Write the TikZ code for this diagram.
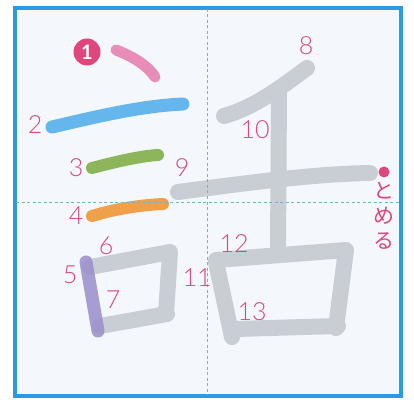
\documentclass[tikz,border=0pt]{standalone}
\usepackage{fontspec}
\usetikzlibrary{positioning}
\setmainfont{Lato Light}
\newfontfamily\jpfont{Noto Sans CJK JP}
\definecolor{frame}{HTML}{2A9BE0}
\definecolor{paper}{HTML}{F4F8FC}
\definecolor{guide}{HTML}{6FB3D0}
\definecolor{num}{HTML}{E0457B}
\definecolor{stk}{HTML}{C9CDD4}
\definecolor{c1}{HTML}{E88DB7}
\definecolor{c2}{HTML}{66B6EE}
\definecolor{c3}{HTML}{8DB65A}
\definecolor{c4}{HTML}{EFA048}
\definecolor{c5}{HTML}{9A8ECB}
\begin{document}
\begin{tikzpicture}[x=1pt, y=-1pt,
		g/.style={draw=stk, line width=16pt, line cap=round, line join=round},
		k/.style={line width=12pt, line cap=round, line join=round},
		d/.style={draw=guide, line width=1pt, dash pattern=on 3pt off 2.5pt},
		n/.style={text=num, font=\fontsize{25}{25}\selectfont, inner sep=0pt}
		]
		\useasboundingbox (0,0) rectangle (414,403);
		
		%Frame
		\draw[frame, line width=3.5pt, fill=paper] (15,8) rectangle (401,396);
		
		%Gray strokes
		\draw[g] (90,267) -- (170,252) -- (166,314);
		\draw[g] (100,326) -- (167,314);
		\draw[g] (307,68) .. controls (275,92) and (252,108) .. (224,116);
		\draw[g] (178,192) .. controls (240,184) and (310,174) .. (370,173);
		\draw[g] (279,92) -- (278,250);
		\draw[g] (216,262) -- (232,337);
		\draw[g] (216,260) -- (346,250) -- (336,328);
		\draw[g] (236,329) -- (338,326);
		
		%Colored strokes
		\draw[k, c1, line width=11pt] (116,50) .. controls (134,57) and (148,66) .. (155,77);
		\draw[k, c2, line width=13pt] (52,127) .. controls (95,117) and (140,106) .. (183,104);
		\draw[k, c3] (92,168) .. controls (115,162) and (140,156) .. (158,155);
		\draw[k, c4] (92,216) .. controls (115,209) and (140,205) .. (163,204);
		\draw[k, c5, line width=13pt, opacity=.85] (86,262) -- (98,331);
		
		%Guides
		\draw[d] (207,9) -- (207,395);
		\draw[d] (16,202) -- (400,202);
		
		%Nodes
		\node[circle, fill=num, minimum size=27pt, inner sep=0pt, text=white, font=\fontspec{Lato}\bfseries\fontsize{20}{20}\selectfont] (b1) at (87,52) {1};
		\node[n] (l2)  at (35,125)  {2};
		\node[n] (l3)  at (76,168)  {3};
		\node[n] (l4)  at (76,216)  {4};
		\node[n] (l5)  at (70,275)  {5};
		\node[n] (l6)  at (106,246) {6};
		\node[n] (l7)  at (113,300) {7};
		\node[n] (l8)  at (306,46)  {8};
		\node[n] (l9)  at (182,168) {9};
		\node[n] (l10) at (255,130) {10};
		\node[n] (l11) at (197,278) {11};
		\node[n] (l12) at (234,244) {12};
		\node[n] (l13) at (252,312) {13};
		\node[circle, fill=num, minimum size=11pt, inner sep=0pt] (dot) at (384,172) {};
		\node[text=num, font=\jpfont\fontsize{21}{25}\selectfont, align=center, inner sep=0pt, below=4pt of dot] (tome) {と\\め\\る};
		
	\end{tikzpicture}
\end{document}
